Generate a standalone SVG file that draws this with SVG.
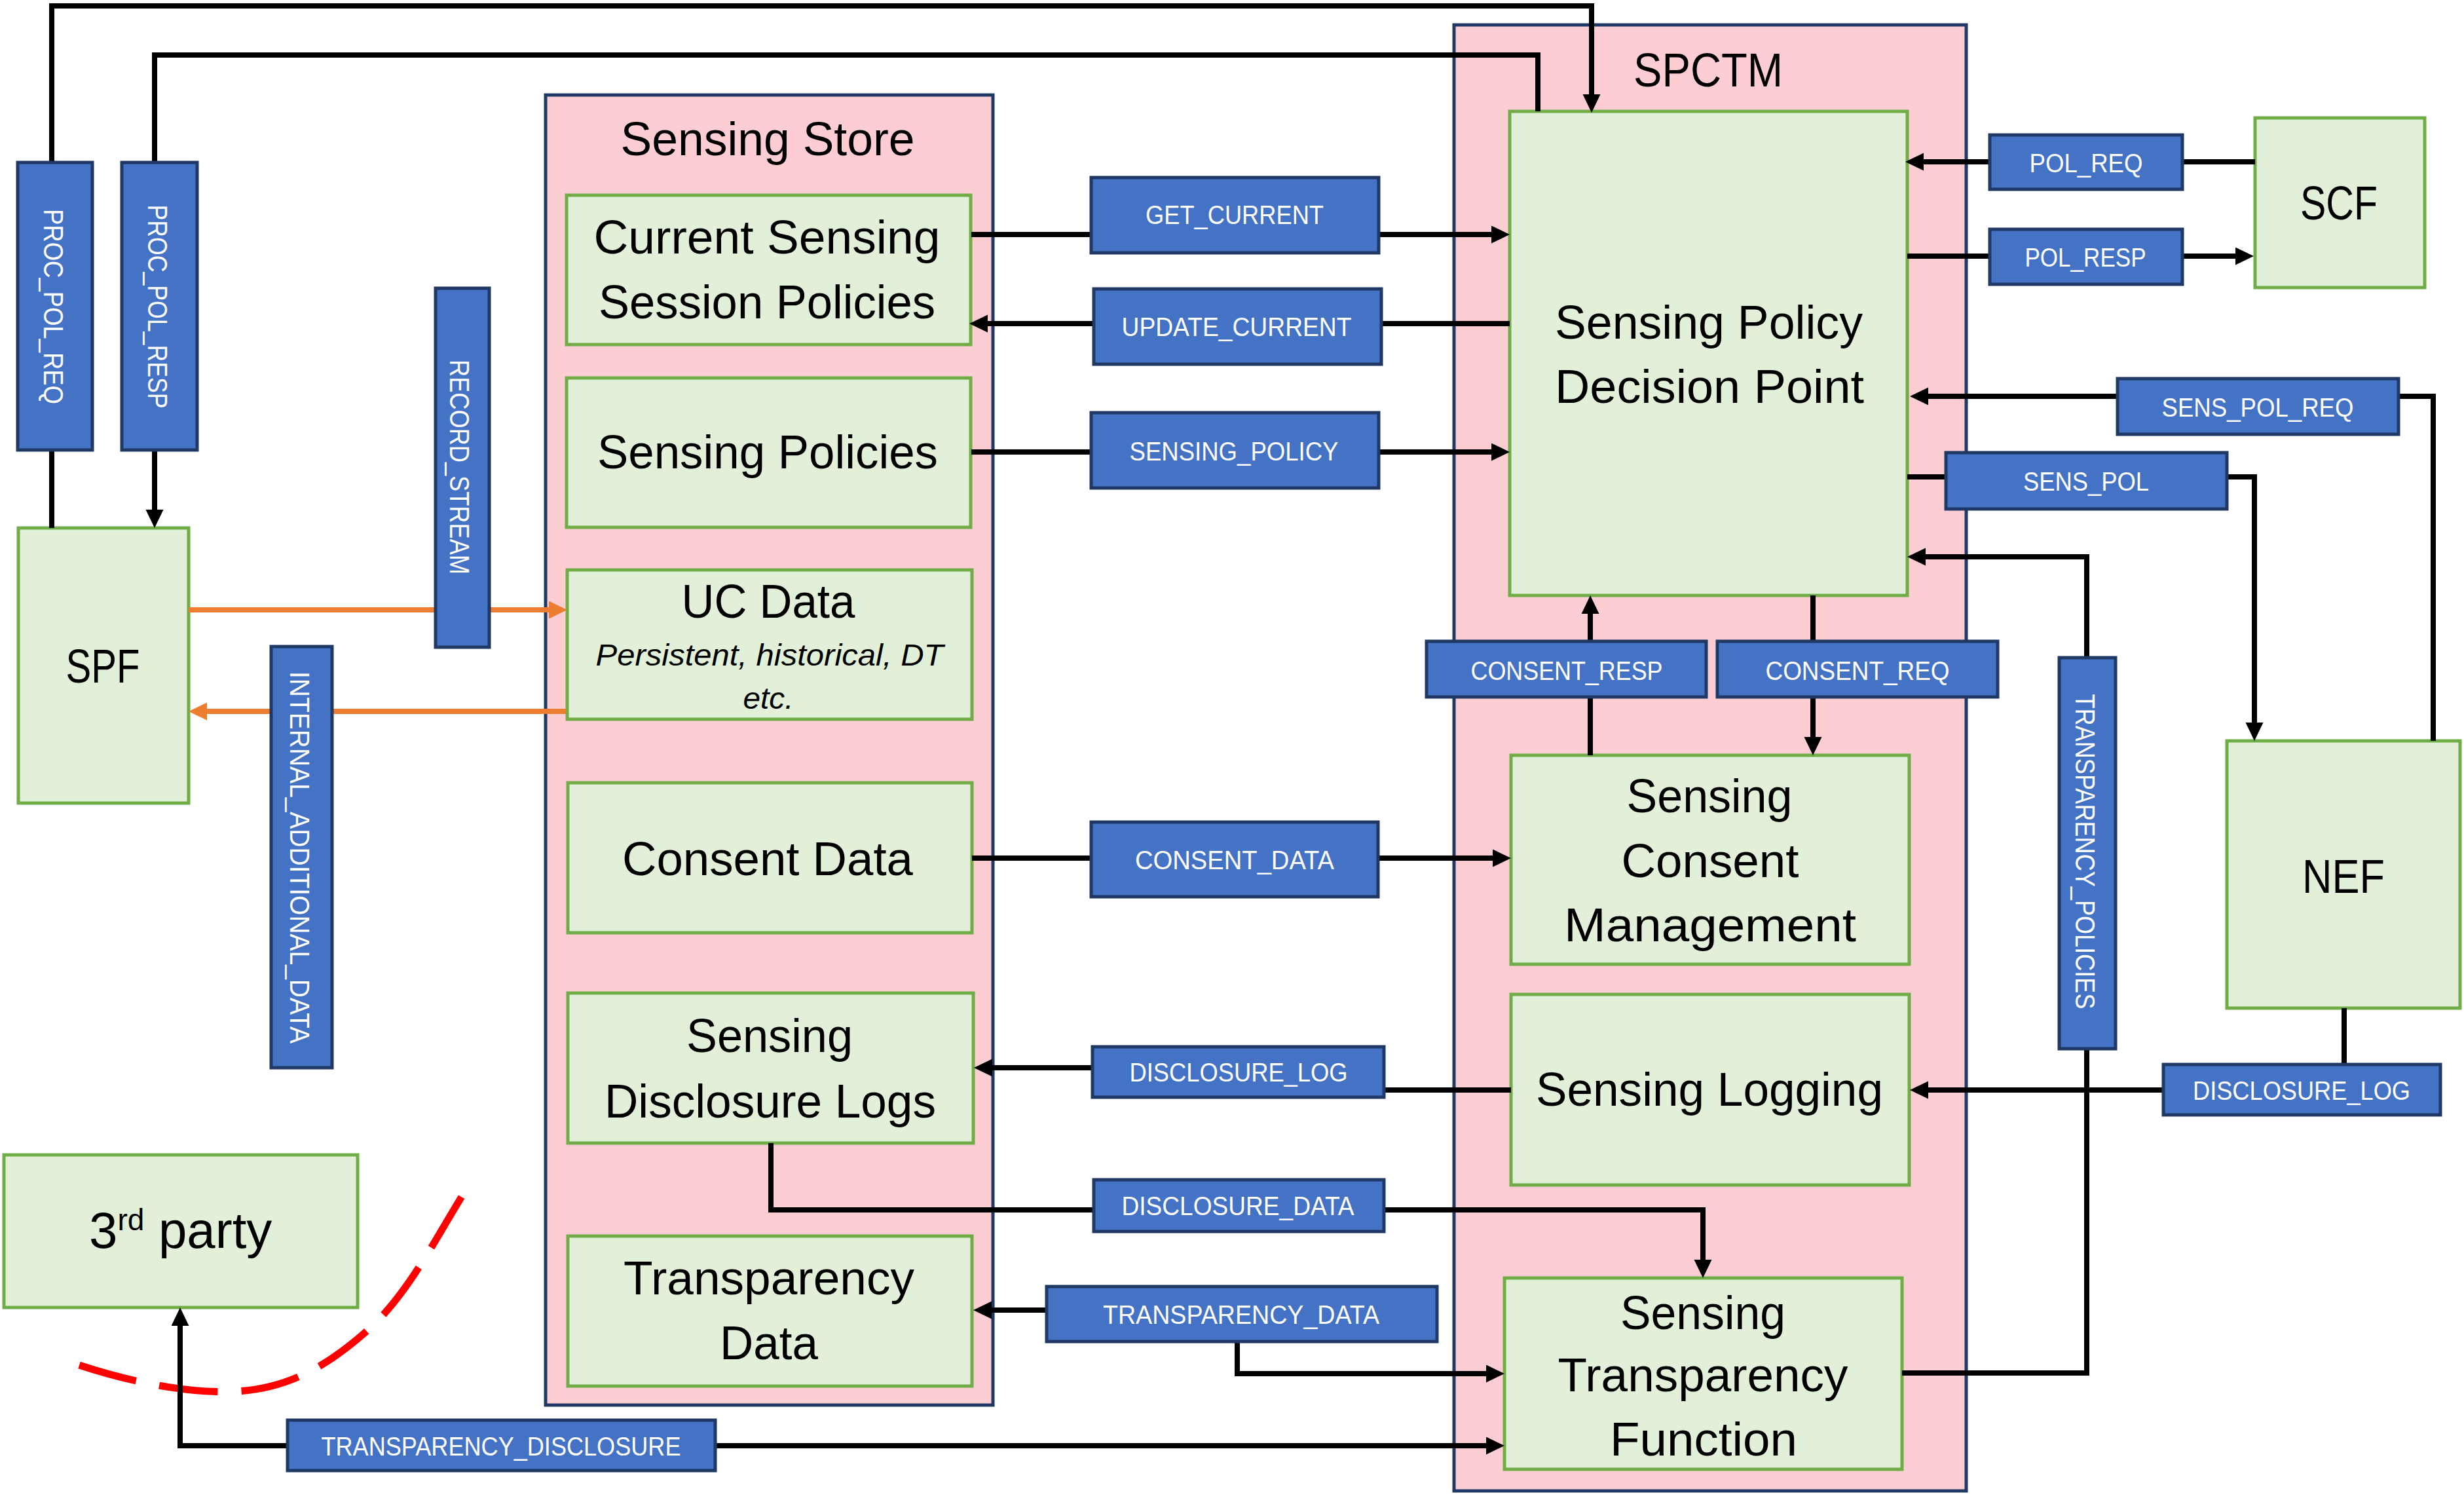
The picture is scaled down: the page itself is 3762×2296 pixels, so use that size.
<svg xmlns="http://www.w3.org/2000/svg" width="3762" height="2296" viewBox="0 0 3762 2296">
<defs>
<style>
.grp{fill:#FCCED4;stroke:#1F3864;stroke-width:5}
.node{fill:#E2F0D9;stroke:#70AD47;stroke-width:5}
.lbl{fill:#4472C4;stroke:#1F3864;stroke-width:5}
text{font-family:"Liberation Sans",Arial,sans-serif}
.t{font-size:72px;fill:#000;text-anchor:middle}
.it{font-size:47px;font-style:italic;fill:#000;text-anchor:middle}
.lt{font-size:40px;fill:#fff;text-anchor:middle}
.vt{font-size:43px;fill:#fff;text-anchor:middle}
.c{fill:none;stroke:#000;stroke-width:8;marker-end:url(#ah)}
.cn{fill:none;stroke:#000;stroke-width:8}
.co{fill:none;stroke:#ED7D31;stroke-width:8;marker-end:url(#aho)}
.red{fill:none;stroke:#FF0000;stroke-width:11;stroke-dasharray:90 36}
</style>
<marker id="ah" markerUnits="userSpaceOnUse" markerWidth="28" markerHeight="28" refX="18" refY="13.5" orient="auto"><path d="M0,0 L28,13.5 L0,27 z" fill="#000"/></marker>
<marker id="aho" markerUnits="userSpaceOnUse" markerWidth="28" markerHeight="28" refX="18" refY="13.5" orient="auto"><path d="M0,0 L28,13.5 L0,27 z" fill="#ED7D31"/></marker>
</defs>
<rect width="3762" height="2296" fill="#fff"/>

<g id="sensing-store">
<rect class="grp" x="833" y="145" width="683" height="2000"/>
<text class="t" x="1172" y="237" textLength="449" lengthAdjust="spacingAndGlyphs">Sensing Store</text>
</g>
<g id="spctm">
<rect class="grp" x="2220" y="38" width="782" height="2238"/>
<text class="t" x="2608" y="132" textLength="228" lengthAdjust="spacingAndGlyphs">SPCTM</text>
</g>

<g id="current-sensing-session-policies">
<rect class="node" x="865" y="298" width="617" height="228"/>
<text class="t" x="1171" y="387" textLength="529" lengthAdjust="spacingAndGlyphs">Current Sensing</text>
<text class="t" x="1171" y="486" textLength="514" lengthAdjust="spacingAndGlyphs">Session Policies</text>
</g>
<g id="sensing-policies">
<rect class="node" x="865" y="577" width="617" height="228"/>
<text class="t" x="1172" y="715" textLength="520" lengthAdjust="spacingAndGlyphs">Sensing Policies</text>
</g>
<g id="uc-data">
<rect class="node" x="866" y="870" width="618" height="228"/>
<text class="t" x="1173" y="943" textLength="265" lengthAdjust="spacingAndGlyphs">UC Data</text>
<text class="it" x="1175" y="1016" textLength="531" lengthAdjust="spacingAndGlyphs">Persistent, historical, DT</text>
<text class="it" x="1173" y="1082" textLength="77" lengthAdjust="spacingAndGlyphs">etc.</text>
</g>
<g id="consent-data">
<rect class="node" x="867" y="1195" width="617" height="229"/>
<text class="t" x="1172" y="1336" textLength="444" lengthAdjust="spacingAndGlyphs">Consent Data</text>
</g>
<g id="sensing-disclosure-logs">
<rect class="node" x="867" y="1516" width="619" height="229"/>
<text class="t" x="1175" y="1606" textLength="254" lengthAdjust="spacingAndGlyphs">Sensing</text>
<text class="t" x="1176" y="1706" textLength="506" lengthAdjust="spacingAndGlyphs">Disclosure Logs</text>
</g>
<g id="transparency-data">
<rect class="node" x="867" y="1887" width="617" height="229"/>
<text class="t" x="1174" y="1976" textLength="444" lengthAdjust="spacingAndGlyphs">Transparency</text>
<text class="t" x="1174" y="2075" textLength="150" lengthAdjust="spacingAndGlyphs">Data</text>
</g>

<g id="spdp">
<rect class="node" x="2305" y="170" width="607" height="739"/>
<text class="t" x="2609" y="517" textLength="470" lengthAdjust="spacingAndGlyphs">Sensing Policy</text>
<text class="t" x="2610" y="615" textLength="472" lengthAdjust="spacingAndGlyphs">Decision Point</text>
</g>
<g id="sensing-consent-management">
<rect class="node" x="2307" y="1153" width="608" height="319"/>
<text class="t" x="2610" y="1240" textLength="253" lengthAdjust="spacingAndGlyphs">Sensing</text>
<text class="t" x="2611" y="1339" textLength="271" lengthAdjust="spacingAndGlyphs">Consent</text>
<text class="t" x="2611" y="1437" textLength="446" lengthAdjust="spacingAndGlyphs">Management</text>
</g>
<g id="sensing-logging">
<rect class="node" x="2307" y="1518" width="608" height="291"/>
<text class="t" x="2610" y="1688" textLength="530" lengthAdjust="spacingAndGlyphs">Sensing Logging</text>
</g>
<g id="sensing-transparency-function">
<rect class="node" x="2297" y="1951" width="607" height="292"/>
<text class="t" x="2600" y="2029" textLength="252" lengthAdjust="spacingAndGlyphs">Sensing</text>
<text class="t" x="2600" y="2124" textLength="443" lengthAdjust="spacingAndGlyphs">Transparency</text>
<text class="t" x="2601" y="2222" textLength="286" lengthAdjust="spacingAndGlyphs">Function</text>
</g>
<g id="scf">
<rect class="node" x="3443" y="180" width="259" height="259"/>
<text class="t" x="3571" y="335" textLength="118" lengthAdjust="spacingAndGlyphs">SCF</text>
</g>
<g id="nef">
<rect class="node" x="3400" y="1131" width="356" height="408"/>
<text class="t" x="3578" y="1363" textLength="126" lengthAdjust="spacingAndGlyphs">NEF</text>
</g>
<g id="spf">
<rect class="node" x="28" y="806" width="260" height="420"/>
<text class="t" x="157" y="1042" textLength="113" lengthAdjust="spacingAndGlyphs">SPF</text>
</g>
<g id="third-party">
<rect class="node" x="6" y="1763" width="540" height="233"/>
<text x="136" y="1905" font-size="78" fill="#000">3<tspan font-size="46" dy="-27">rd</tspan><tspan dy="27"> party</tspan></text>
</g>

<path id="trust-boundary" class="red" d="M121,2084 C200,2110 290,2128 360,2124 C440,2120 500,2085 560,2032 S660,1900 706,1825"/>

<g id="connectors">
<path class="c" d="M79,806 V9 H2430 V162"/>
<path class="c" d="M2348,170 V84 H236 V796"/>
<path class="c" d="M1483,358 H2295"/>
<path class="c" d="M2305,494 H1490"/>
<path class="c" d="M1483,690 H2295"/>
<path class="co" d="M288,931 H856"/>
<path class="co" d="M864,1086 H298"/>
<path class="c" d="M1484,1310 H2297"/>
<path class="c" d="M2307,1664 H1890 V1630 H1497"/>
<path class="c" d="M1177,1745 V1847 H2600 V1941"/>
<path class="c" d="M1700,2000 H1496"/>
<path class="c" d="M1889,2048 V2097 H2287"/>
<path class="c" d="M1092,2207 H2287"/>
<path class="c" d="M439,2207 H275 V2006"/>
<path class="c" d="M2428,1153 V919"/>
<path class="c" d="M2768,909 V1143"/>
<path class="c" d="M3443,247 H2919"/>
<path class="c" d="M2912,391 H3431"/>
<path class="c" d="M3715,1131 V605 H2926"/>
<path class="c" d="M2912,728 H3442 V1121"/>
<path class="c" d="M2904,2096 H3186 V850 H2922"/>
<path class="c" d="M3579,1539 V1664 H2926"/>
</g>

<g id="lbl-proc-pol-req"><rect class="lbl" x="27" y="248" width="114" height="439"/><text class="vt" transform="translate(67,468) rotate(90)" textLength="298" lengthAdjust="spacingAndGlyphs">PROC_POL_REQ</text></g>
<g id="lbl-proc-pol-resp"><rect class="lbl" x="186" y="248" width="115" height="439"/><text class="vt" transform="translate(226,468) rotate(90)" textLength="311" lengthAdjust="spacingAndGlyphs">PROC_POL_RESP</text></g>
<g id="lbl-record-stream"><rect class="lbl" x="665" y="440" width="82" height="548"/><text class="vt" transform="translate(687,713) rotate(90)" textLength="328" lengthAdjust="spacingAndGlyphs">RECORD_STREAM</text></g>
<g id="lbl-internal-additional-data"><rect class="lbl" x="414" y="987" width="93" height="643"/><text class="vt" transform="translate(443,1309) rotate(90)" textLength="568" lengthAdjust="spacingAndGlyphs">INTERNAL_ADDITIONAL_DATA</text></g>
<g id="lbl-transparency-policies"><rect class="lbl" x="3144" y="1004" width="86" height="597"/><text class="vt" transform="translate(3169,1300) rotate(90)" textLength="481" lengthAdjust="spacingAndGlyphs">TRANSPARENCY_POLICIES</text></g>
<g id="lbl-get-current"><rect class="lbl" x="1666" y="271" width="439" height="115"/><text class="lt" x="1885" y="342" textLength="272" lengthAdjust="spacingAndGlyphs">GET_CURRENT</text></g>
<g id="lbl-update-current"><rect class="lbl" x="1670" y="441" width="439" height="115"/><text class="lt" x="1888" y="513" textLength="351" lengthAdjust="spacingAndGlyphs">UPDATE_CURRENT</text></g>
<g id="lbl-sensing-policy"><rect class="lbl" x="1666" y="630" width="439" height="115"/><text class="lt" x="1884" y="703" textLength="319" lengthAdjust="spacingAndGlyphs">SENSING_POLICY</text></g>
<g id="lbl-consent-data"><rect class="lbl" x="1666" y="1255" width="438" height="114"/><text class="lt" x="1885" y="1327" textLength="304" lengthAdjust="spacingAndGlyphs">CONSENT_DATA</text></g>
<g id="lbl-disclosure-log-1"><rect class="lbl" x="1668" y="1598" width="445" height="77"/><text class="lt" x="1891" y="1651" textLength="333" lengthAdjust="spacingAndGlyphs">DISCLOSURE_LOG</text></g>
<g id="lbl-disclosure-data"><rect class="lbl" x="1670" y="1801" width="443" height="79"/><text class="lt" x="1890" y="1855" textLength="355" lengthAdjust="spacingAndGlyphs">DISCLOSURE_DATA</text></g>
<g id="lbl-transparency-data"><rect class="lbl" x="1598" y="1964" width="596" height="84"/><text class="lt" x="1895" y="2021" textLength="422" lengthAdjust="spacingAndGlyphs">TRANSPARENCY_DATA</text></g>
<g id="lbl-transparency-disclosure"><rect class="lbl" x="439" y="2168" width="653" height="77"/><text class="lt" x="765" y="2222" textLength="549" lengthAdjust="spacingAndGlyphs">TRANSPARENCY_DISCLOSURE</text></g>
<g id="lbl-consent-resp"><rect class="lbl" x="2178" y="979" width="427" height="85"/><text class="lt" x="2392" y="1038" textLength="293" lengthAdjust="spacingAndGlyphs">CONSENT_RESP</text></g>
<g id="lbl-consent-req"><rect class="lbl" x="2622" y="979" width="428" height="85"/><text class="lt" x="2836" y="1038" textLength="281" lengthAdjust="spacingAndGlyphs">CONSENT_REQ</text></g>
<g id="lbl-pol-req"><rect class="lbl" x="3038" y="206" width="294" height="83"/><text class="lt" x="3185" y="263" textLength="173" lengthAdjust="spacingAndGlyphs">POL_REQ</text></g>
<g id="lbl-pol-resp"><rect class="lbl" x="3038" y="350" width="294" height="84"/><text class="lt" x="3184" y="407" textLength="185" lengthAdjust="spacingAndGlyphs">POL_RESP</text></g>
<g id="lbl-sens-pol-req"><rect class="lbl" x="3233" y="578" width="429" height="85"/><text class="lt" x="3447" y="636" textLength="293" lengthAdjust="spacingAndGlyphs">SENS_POL_REQ</text></g>
<g id="lbl-sens-pol"><rect class="lbl" x="2971" y="691" width="429" height="86"/><text class="lt" x="3185" y="749" textLength="192" lengthAdjust="spacingAndGlyphs">SENS_POL</text></g>
<g id="lbl-disclosure-log-2"><rect class="lbl" x="3303" y="1625" width="423" height="77"/><text class="lt" x="3514" y="1679" textLength="332" lengthAdjust="spacingAndGlyphs">DISCLOSURE_LOG</text></g>
</svg>
